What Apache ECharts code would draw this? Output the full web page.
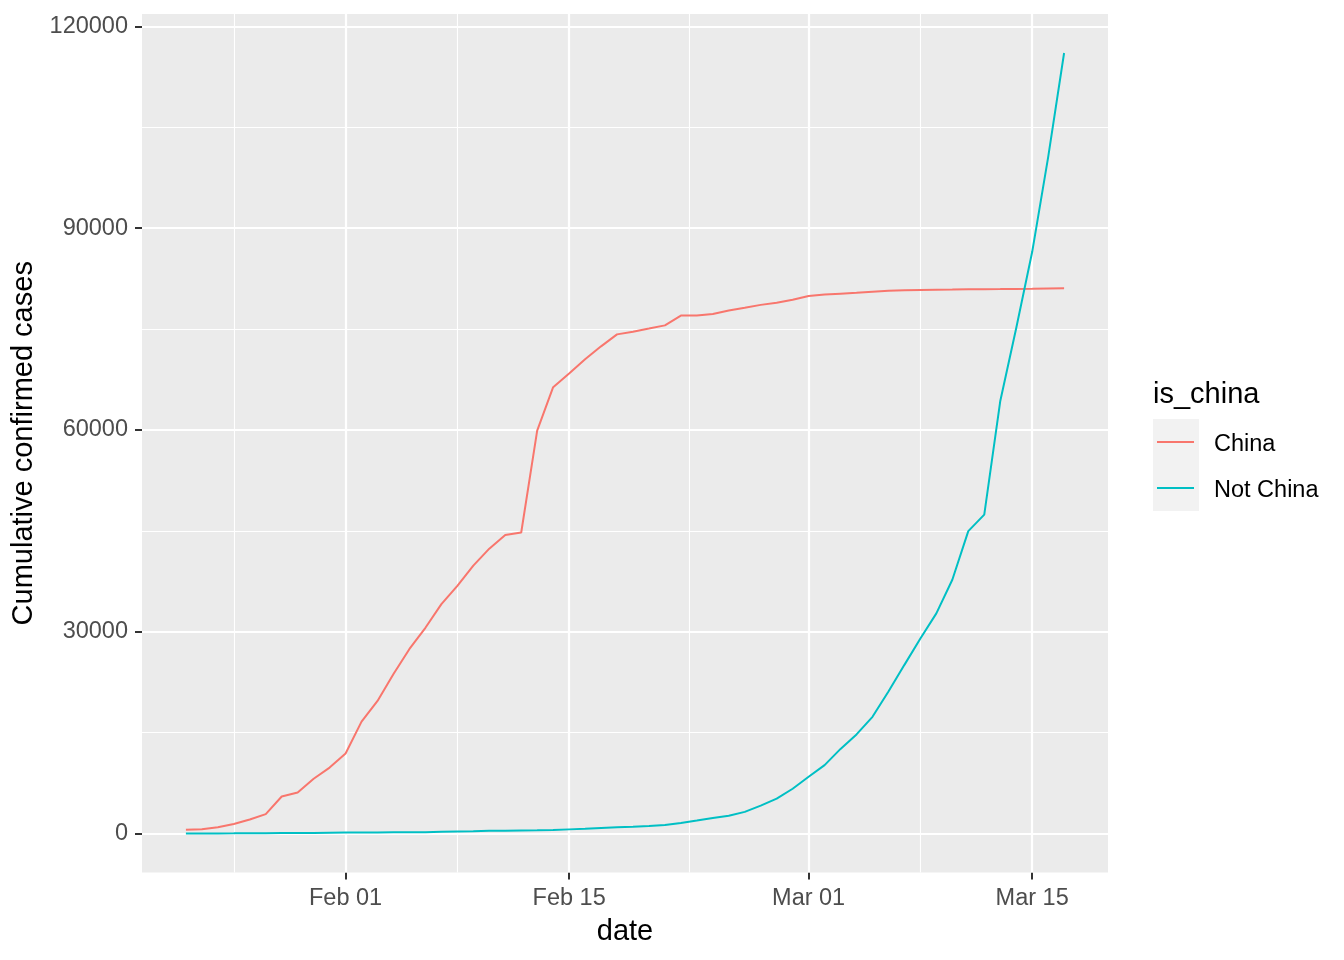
<!DOCTYPE html>
<html>
<head>
<meta charset="utf-8">
<script src="https://cdn.jsdelivr.net/npm/echarts@6/dist/echarts.min.js"></script>
<style>
html,body{margin:0;padding:0;background:#fff;}
#chart{width:1344px;height:960px;}
</style>
</head>
<body>
<div id="chart"></div>
<script>
const dates = [
 '2020-01-22','2020-01-23','2020-01-24','2020-01-25','2020-01-26','2020-01-27','2020-01-28','2020-01-29','2020-01-30','2020-01-31',
 '2020-02-01','2020-02-02','2020-02-03','2020-02-04','2020-02-05','2020-02-06','2020-02-07','2020-02-08','2020-02-09','2020-02-10',
 '2020-02-11','2020-02-12','2020-02-13','2020-02-14','2020-02-15','2020-02-16','2020-02-17','2020-02-18','2020-02-19','2020-02-20',
 '2020-02-21','2020-02-22','2020-02-23','2020-02-24','2020-02-25','2020-02-26','2020-02-27','2020-02-28','2020-02-29',
 '2020-03-01','2020-03-02','2020-03-03','2020-03-04','2020-03-05','2020-03-06','2020-03-07','2020-03-08','2020-03-09','2020-03-10',
 '2020-03-11','2020-03-12','2020-03-13','2020-03-14','2020-03-15','2020-03-16','2020-03-17'
];
const china = [
 548,643,920,1406,2075,2877,5509,6087,8141,9802,
 11891,16630,19716,23707,27440,30587,34110,36814,39829,42354,
 44386,44759,59895,66358,68413,70513,72434,74211,74619,75077,
 75550,77001,77022,77241,77754,78166,78600,78928,79356,
 79932,80136,80261,80386,80537,80690,80770,80823,80860,80887,
 80921,80932,80945,80977,81003,81033,81058
];
const notChina = [
 7,11,21,28,43,50,69,79,93,125,
 147,157,165,185,195,207,281,306,321,408,
 416,462,473,527,617,711,824,925,1020,1120,
 1269,1571,1936,2320,2652,3222,4146,5184,6655,
 8437,10170,12579,14734,17349,21111,25077,28998,32730,37733,
 44954,47420,64260,75124,86451,100541,116044
];
const seriesNames = ['China','Not China'];
const seriesColors = ['#F8766D','#00BFC4'];
const xTickDates = ['2020-02-01','2020-02-15','2020-03-01','2020-03-15'];
const xTickLabels = ['Feb 01','Feb 15','Mar 01','Mar 15'];
const xMinorDates = ['2020-01-25','2020-02-08','2020-02-22T12:00','2020-03-08'];
const yTicks = [0,30000,60000,90000,120000];
const yMinor = [15000,45000,75000,105000];

const DAY = 86400000;
const t0 = Date.parse(dates[0] + 'T00:00:00Z');
const dayIdx = s => (Date.parse((s.length > 10 ? s : s + 'T00:00') + ':00Z') - t0) / DAY;
const xs = dates.map(dayIdx);
const xTicks = xTickDates.map(dayIdx);
const xMinor = xMinorDates.map(dayIdx);

const xSpan = xs[xs.length-1] - xs[0];
const xMin = xs[0] - 0.05 * xSpan, xMax = xs[xs.length-1] + 0.05 * xSpan;
const yAll = china.concat(notChina);
const yLo = Math.min(...yAll), yHi = Math.max(...yAll);
const yMin = yLo - 0.05 * (yHi - yLo), yMax = yHi + 0.05 * (yHi - yLo);

const FONT = 'Liberation Sans, Arial, sans-serif';
const gridLines = []
  .concat(yTicks.map(v => ({yAxis: v, lineStyle: {color: '#FFFFFF', width: 2.2, type: 'solid'}})))
  .concat(yMinor.map(v => ({yAxis: v, lineStyle: {color: '#FFFFFF', width: 1.1, type: 'solid'}})))
  .concat(xTicks.map(v => ({xAxis: v, lineStyle: {color: '#FFFFFF', width: 2.2, type: 'solid'}})))
  .concat(xMinor.map(v => ({xAxis: v, lineStyle: {color: '#FFFFFF', width: 1.1, type: 'solid'}})));

const chart = echarts.init(document.getElementById('chart'), null, {renderer: 'canvas'});
chart.setOption({
  animation: false,
  backgroundColor: '#FFFFFF',
  textStyle: {fontFamily: FONT},
  title: [{
    text: 'is_china', left: 1153, top: 380, padding: 0,
    textStyle: {fontFamily: FONT, fontSize: 29, fontWeight: 'normal', color: '#000000'}
  }],
  grid: {left: 142, right: 236, top: 14, bottom: 87.5, show: true, backgroundColor: '#EBEBEB', borderWidth: 0, containLabel: false, outerBoundsMode: 'none'},
  xAxis: {
    type: 'value', min: xMin, max: xMax,
    name: 'date', nameLocation: 'middle', nameGap: 45,
    nameTextStyle: {fontFamily: FONT, fontSize: 29, color: '#000000'},
    axisLine: {show: false, onZero: false},
    axisTick: {show: true, length: 7, customValues: xTicks, lineStyle: {color: '#333333', width: 2}},
    axisLabel: {customValues: xTicks, margin: 14, fontSize: 23.5, color: '#4D4D4D', fontFamily: FONT,
      formatter: v => { const i = xTicks.findIndex(t => Math.abs(t - v) < 1e-6); return i >= 0 ? xTickLabels[i] : ''; }},
    splitLine: {show: false}
  },
  yAxis: {
    type: 'value', min: yMin, max: yMax,
    name: 'Cumulative confirmed cases', nameLocation: 'middle', nameGap: 91,
    nameTextStyle: {fontFamily: FONT, fontSize: 29, color: '#000000'},
    axisLine: {show: false, onZero: false},
    axisTick: {show: true, length: 7, customValues: yTicks, lineStyle: {color: '#333333', width: 2}},
    axisLabel: {customValues: yTicks, margin: 14, fontSize: 23.5, color: '#4D4D4D', fontFamily: FONT, formatter: v => String(v)},
    splitLine: {show: false}
  },
  legend: [{
    data: seriesNames, orient: 'vertical', left: 1153, top: 419, padding: 0,
    itemWidth: 46, itemHeight: 46, itemGap: 0, icon: 'rect', selectedMode: false,
    itemStyle: {color: '#F2F2F2', borderWidth: 0},
    textStyle: {color: 'rgba(0,0,0,0)', fontSize: 23.5, lineHeight: 46, fontFamily: FONT}
  }, {
    data: seriesNames, orient: 'vertical', left: 1157, top: 419, padding: 0,
    itemWidth: 37, itemHeight: 2.2, itemGap: 0, icon: 'rect', selectedMode: false,
    textStyle: {color: 'rgba(0,0,0,0)', fontSize: 23.5, lineHeight: 46, fontFamily: FONT}
  }, {
    data: seriesNames, orient: 'vertical', left: 1209, top: 422, padding: 0,
    itemWidth: 0, itemHeight: 1, itemGap: 0, icon: 'rect', selectedMode: false,
    itemStyle: {opacity: 0},
    textStyle: {color: '#000000', fontSize: 23.5, lineHeight: 46, fontFamily: FONT}
  }],
  series: [{
    name: seriesNames[0], type: 'line', z: 3,
    data: xs.map((x, i) => [x, china[i]]),
    showSymbol: false, symbol: 'none',
    color: seriesColors[0],
    lineStyle: {color: seriesColors[0], width: 2},
    markLine: {silent: true, z: 1, symbol: ['none', 'none'], label: {show: false}, emphasis: {disabled: true}, animation: false, data: gridLines}
  }, {
    name: seriesNames[1], type: 'line', z: 3,
    data: xs.map((x, i) => [x, notChina[i]]),
    showSymbol: false, symbol: 'none',
    color: seriesColors[1],
    lineStyle: {color: seriesColors[1], width: 2}
  }]
});
</script>
</body>
</html>
